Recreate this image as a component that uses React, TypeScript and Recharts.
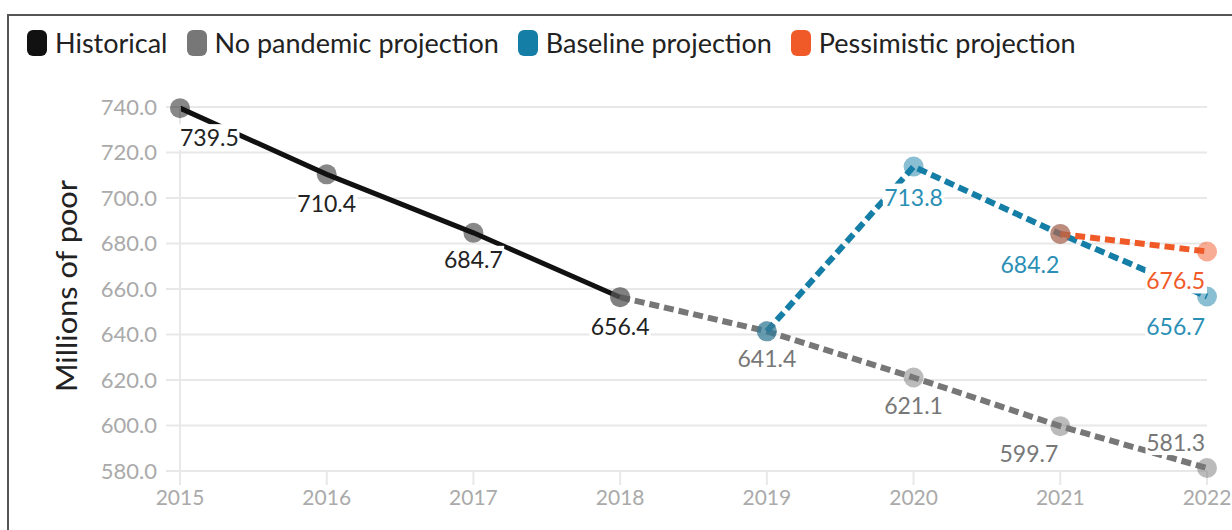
import React from 'react';
import { LineChart, Line, XAxis, YAxis, CartesianGrid } from 'recharts';

const years = [2015, 2016, 2017, 2018, 2019, 2020, 2021, 2022];
const historical = [739.5, 710.4, 684.7, 656.4, null, null, null, null];
const noPandemic = [null, null, null, 656.4, 641.4, 621.1, 599.7, 581.3];
const baseline = [null, null, null, null, 641.4, 713.8, 684.2, 656.7];
const pessimistic = [null, null, null, null, null, null, 684.2, 676.5];
const yTicks = [580, 600, 620, 640, 660, 680, 700, 720, 740];
const seriesNames = ['Historical', 'No pandemic projection', 'Baseline projection', 'Pessimistic projection'];
const seriesKeys = ['historical', 'noPandemic', 'baseline', 'pessimistic'];
const seriesColors = ['#111111', '#777777', '#157ea6', '#f05a28'];
const labelColors = ['#222222', '#777777', '#2b8fb5', '#f05a28'];

const data = years.map((year, i) => ({
  year,
  historical: historical[i],
  noPandemic: noPandemic[i],
  baseline: baseline[i],
  pessimistic: pessimistic[i],
}));

// label placement per series, keyed by year: [anchor, dx, dy]; missing = no label
type Place = [string, number, number];
const labelPlacement: Record<string, Record<number, Place>> = {
  historical: { 2015: ['start', 0, 29], 2016: ['middle', 0, 29], 2017: ['middle', 0, 26], 2018: ['middle', 0, 29] },
  noPandemic: { 2019: ['middle', 0, 27], 2020: ['middle', 0, 28], 2021: ['end', -2, 27], 2022: ['end', -2, -26] },
  baseline: { 2020: ['middle', 0, 30], 2021: ['end', -1, 30], 2022: ['end', -2, 29] },
  pessimistic: { 2022: ['end', -2, 29] },
};

const FONT = 'Lato, "Noto Sans", sans-serif';

const makeLabel = (key: string, color: string) => (props: any) => {
  const { x, y, value, index } = props;
  if (value == null || x == null || y == null) return null;
  const yr = years[index];
  const place = labelPlacement[key][yr];
  if (!place) return null;
  const [anchor, dx, dy] = place;
  const text = Number(value).toFixed(1);
  const fs = 23;
  const w = text.length * fs * 0.5 + 4;
  const tx = x + dx;
  const ty = y + dy;
  const rx = anchor === 'start' ? tx - 2 : anchor === 'end' ? tx - w + 2 : tx - w / 2;
  return (
    <g key={`${key}-${index}`}>
      <rect x={rx} y={ty - 13} width={w} height={26} fill="#ffffff" />
      <text x={tx} y={ty} textAnchor={anchor as any} dominantBaseline="central" fill={color} fontSize={fs} fontFamily={FONT}>
        {text}
      </text>
    </g>
  );
};

export default function App() {
  return (
    <div style={{ position: 'absolute', left: 0, top: 0, width: 1232, height: 530, background: '#fff', fontFamily: FONT }}>
      <div
        style={{
          position: 'absolute',
          left: 7,
          top: 14,
          right: 0,
          bottom: 0,
          borderTop: '2px solid #555',
          borderLeft: '2px solid #555',
        }}
      />
      <div style={{ position: 'absolute', left: 27, top: 29, display: 'flex', alignItems: 'center', height: 28 }}>
        {seriesNames.map((n, i) => (
          <div key={n} style={{ display: 'flex', alignItems: 'center', marginRight: 19 }}>
            <div style={{ width: 20, height: 26, borderRadius: 6, background: seriesColors[i], marginRight: 8 }} />
            <span style={{ fontSize: 27, color: '#222', whiteSpace: 'nowrap', lineHeight: '28px' }}>{n}</span>
          </div>
        ))}
      </div>
      <div style={{ position: 'absolute', left: 0, top: 0 }}>
        <LineChart width={1232} height={530} data={data} margin={{ top: 107, right: 25, bottom: 19, left: 0 }}>
          <CartesianGrid vertical={false} stroke="#e8e8e8" strokeWidth={2} />
          <XAxis
            dataKey="year"
            type="number"
            domain={[2015, 2022]}
            ticks={years}
            tickSize={14}
            tickMargin={5}
            height={40}
            axisLine={{ stroke: '#e8e8e8', strokeWidth: 2 }}
            tickLine={{ stroke: '#e8e8e8', strokeWidth: 2 }}
            tick={{ fill: '#aaaaaa', fontSize: 21, fontFamily: FONT }}
          />
          <YAxis
            domain={[580, 740]}
            ticks={yTicks}
            width={180}
            tickSize={14}
            tickMargin={9}
            tickFormatter={(v: number) => v.toFixed(1)}
            axisLine={{ stroke: '#e8e8e8', strokeWidth: 2 }}
            tickLine={{ stroke: '#e8e8e8', strokeWidth: 2 }}
            tick={{ fill: '#aaaaaa', fontSize: 22, fontFamily: FONT }}
            label={{
              content: () => (
                <text
                  x={66}
                  y={286}
                  transform="rotate(-90 66 286)"
                  textAnchor="middle"
                  dominantBaseline="central"
                  fill="#222"
                  fontSize={28}
                  fontFamily={FONT}
                  textLength={212}
                  lengthAdjust="spacingAndGlyphs"
                >
                  Millions of poor
                </text>
              ),
            }}
          />
          {seriesKeys.map((k, i) => (
            <Line
              key={k}
              dataKey={k}
              name={seriesNames[i]}
              stroke={seriesColors[i]}
              strokeWidth={i === 0 ? 5 : 6}
              strokeDasharray={i === 0 ? undefined : '10 5'}
              dot={{ r: 10, fill: seriesColors[i], fillOpacity: 0.5, stroke: 'none' }}
              activeDot={false}
              isAnimationActive={false}
              label={makeLabel(k, labelColors[i])}
            />
          ))}
        </LineChart>
      </div>
    </div>
  );
}
